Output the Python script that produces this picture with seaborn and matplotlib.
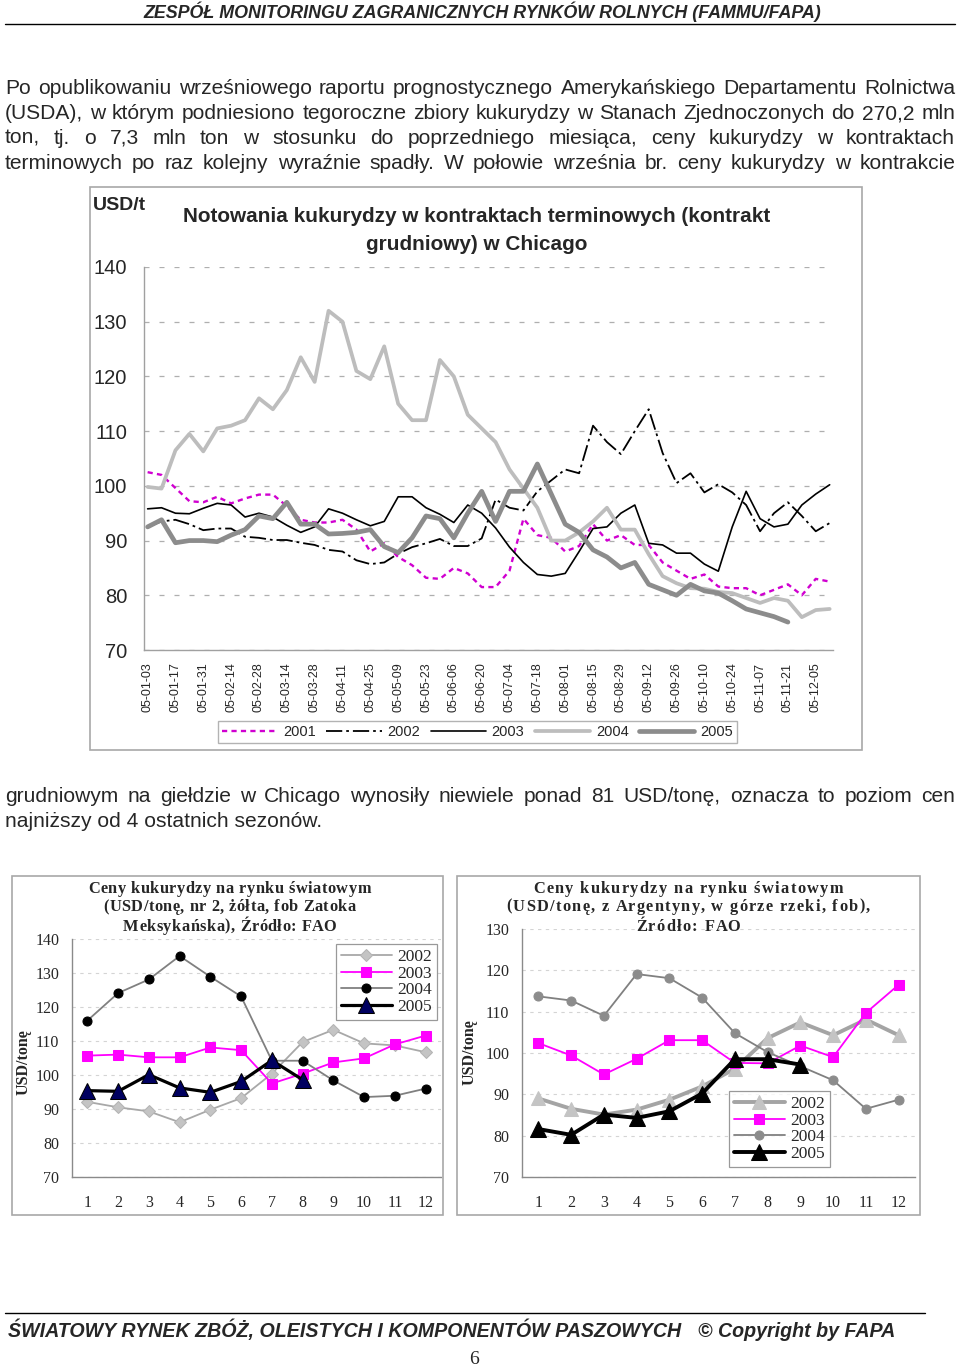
import numpy as np
import pandas as pd
import matplotlib
matplotlib.use("Agg")
import matplotlib.pyplot as plt
import seaborn as sns
from matplotlib.patches import Rectangle
from matplotlib.lines import Line2D

# ------------------------------------------------------------------ data
# Chicago December corn futures (USD/t), read weekly (every 5 trading days)
tick_dates = ["05-01-03", "05-01-17", "05-01-31", "05-02-14", "05-02-28", "05-03-14",
              "05-03-28", "05-04-11", "05-04-25", "05-05-09", "05-05-23", "05-06-06",
              "05-06-20", "05-07-04", "05-07-18", "05-08-01", "05-08-15", "05-08-29",
              "05-09-12", "05-09-26", "05-10-10", "05-10-24", "05-11-07", "05-11-21",
              "05-12-05"]
trading_day = np.arange(0, 246, 5)

fut_2001 = [102.5, 102, 99.6, 97.2, 97, 98, 96.8, 97.7, 98.4, 98.4,
            96.3, 93.8, 93.3, 93.3, 93.8, 92, 88, 89.5, 87, 85.5,
            83.2, 83, 85, 84, 81.5, 81.5, 84.5, 94, 91, 90.5,
            88, 89, 93, 90, 91, 89.2, 89.2, 86, 84.5, 83,
            83.8, 81.6, 81.3, 81.3, 80, 81, 82, 80, 83, 82.5]
fut_2002 = [92.5, 93.5, 93.8, 93, 91.9, 92.2, 92.2, 90.7, 90.5, 90.1,
            90.1, 89.6, 89.2, 88.3, 88, 86.4, 85.7, 86, 87.6, 88.8,
            89.5, 90.3, 89, 89, 90.4, 97.5, 96, 95.5, 99, 101,
            103, 102.3, 111, 108, 105.8, 110, 114, 106, 100.5, 102.3,
            98.8, 100.3, 98.8, 96.5, 91.7, 95, 97, 94.5, 91.7, 93.2]
fut_2003 = [95.8, 96, 95, 94.9, 95.9, 96.8, 96.5, 94.3, 95, 94.3,
            92.8, 91.5, 92.5, 95.8, 95, 93.8, 92.7, 93.5, 98, 98,
            96, 94.8, 93.3, 96.5, 95, 92.3, 88.8, 86, 83.8, 83.5,
            84, 88, 92.2, 92.5, 95, 96.5, 89.5, 89.2, 87.7, 87.7,
            85.7, 84.4, 92.5, 99, 94, 92.5, 93, 96.5, 98.5, 100.2]
fut_2004 = [99.8, 99.5, 106.5, 109.5, 106.3, 110.5, 111, 112, 116, 114,
            117.5, 123.5, 119, 132, 130, 121, 119.5, 125.5, 115, 112,
            112, 123, 120, 113, 110.5, 108, 103, 99.5, 96, 90,
            90, 91.5, 93.5, 96, 92, 92, 87.5, 83.5, 82.2, 81.3,
            81.2, 80.6, 80.4, 79.5, 78.6, 79.5, 79, 76, 77.3, 77.5]
fut_2005 = [92.5, 93.8, 89.6, 90, 90, 89.8, 91, 92, 94.5, 94,
            97, 93, 93, 91.2, 91.3, 91.5, 92, 88.9, 87.8, 90.5,
            94.5, 94, 90.5, 95, 99, 93.5, 99, 99, 104, 98.5,
            93, 91.5, 88.3, 87, 85, 86, 82, 81, 80, 82,
            80.8, 80.4, 79, 77.5, 76.8, 76.1, 75.1, np.nan, np.nan, np.nan]
fut_years = [2001, 2002, 2003, 2004, 2005]

# World market prices (USD/t), monthly
months = list(range(1, 13))
gulf_2002 = [92.1, 90.5, 89.3, 86.1, 89.8, 93.2, 100.4, 109.7, 113.3, 109.3, 108.7, 106.7]
gulf_2003 = [105.7, 106, 105.2, 105.2, 108.1, 107.3, 97.5, 100.4, 103.7, 104.9, 109, 111.6]
gulf_2004 = [116, 124.1, 128.1, 135, 128.9, 123.1, 104.2, 104.2, 98.4, 93.5, 93.9, 96]
gulf_2005 = [95.4, 95.2, 100.1, 96.2, 94.9, 98.1, 104.3, 98.6, np.nan, np.nan, np.nan, np.nan]

arg_2002 = [89, 86.5, 85.1, 86.3, 88.7, 91.9, 96.2, 103.6, 107.4, 104.3, 108.1, 104.3]
arg_2003 = [102.4, 99.4, 94.8, 98.6, 103.1, 103.1, 97.6, 97.5, 101.8, 99, 109.7, 116.5]
arg_2004 = [113.7, 112.7, 109, 119.1, 118.1, 113.4, 104.8, 100.2, 96.8, 93.4, 86.5, 88.7]
arg_2005 = [81.6, 80.2, 85.1, 84.3, 85.9, 90.2, 98.5, 98.5, 97.2, np.nan, np.nan, np.nan]

# texts
header = "ZESPÓŁ MONITORINGU ZAGRANICZNYCH RYNKÓW ROLNYCH (FAMMU/FAPA)"
para1 = ["Po opublikowaniu wrześniowego raportu prognostycznego Amerykańskiego Departamentu Rolnictwa",
         "(USDA), w którym podniesiono tegoroczne zbiory kukurydzy w Stanach Zjednoczonych  do 270,2 mln",
         "ton, tj. o 7,3 mln ton w stosunku do poprzedniego miesiąca, ceny kukurydzy w kontraktach",
         "terminowych po raz kolejny wyraźnie spadły. W połowie września br. ceny kukurydzy w kontrakcie"]
para2 = ["grudniowym na giełdzie w Chicago wynosiły niewiele ponad 81 USD/tonę, oznacza to poziom cen",
         "najniższy od 4 ostatnich sezonów."]
top_title = ["Notowania kukurydzy w kontraktach terminowych (kontrakt", "grudniowy) w Chicago"]
gulf_title = ["Ceny kukurydzy na rynku światowym", "(USD/tonę, nr 2, żółta, fob Zatoka",
              "Meksykańska), Źródło: FAO"]
arg_title = ["Ceny kukurydzy na rynku światowym", "(USD/tonę, z Argentyny, w górze rzeki, fob),",
             "Źródło: FAO"]
footer_left = "ŚWIATOWY RYNEK ZBÓŻ, OLEISTYCH I KOMPONENTÓW PASZOWYCH"
footer_right = "© Copyright by FAPA"

# ------------------------------------------------------------------ setup
sns.set_style("white")
SANS = ['Liberation Sans', 'DejaVu Sans']
SERIF = ['Liberation Serif', 'DejaVu Serif']
plt.rcParams['font.family'] = SANS

W, H = 960, 1370
fig = plt.figure(figsize=(W / 100, H / 100), dpi=100)
fig.patch.set_facecolor('white')
R = fig.canvas.get_renderer()


def fx(x):
    return x / W


def fy(y):
    return 1 - y / H


def rect(x0, y0, x1, y1):
    return [x0 / W, 1 - y1 / H, (x1 - x0) / W, (y1 - y0) / H]


def tw(s, fs, **kw):
    t = fig.text(0, 0, s, fontsize=fs, **kw)
    w = t.get_window_extent(renderer=R).width
    t.remove()
    return w


def fit_size(s, width, fs0=12, **kw):
    return fs0 * width / tw(s, fs0, **kw)


def justify(line, base_y, x0, x1, fs, **kw):
    words = line.split()
    widths = [tw(w, fs, **kw) for w in words]
    gap = (x1 - x0 - sum(widths)) / (len(words) - 1)
    x = x0
    for w, wd in zip(words, widths):
        fig.text(fx(x), fy(base_y), w, fontsize=fs, ha='left', va='baseline', **kw)
        x += wd + gap


def tracked(s, cx, base_y, fs, track, **kw):
    bar = tw("|", fs, **kw)
    offs = [0.0] + [tw(s[:i] + "|", fs, **kw) - bar for i in range(1, len(s))]
    total = tw(s, fs, **kw) + track * (len(s) - 1)
    x0 = cx - total / 2
    for i, ch in enumerate(s):
        if ch == " ":
            continue
        fig.text(fx(x0 + offs[i] + i * track), fy(base_y), ch, fontsize=fs,
                 ha='left', va='baseline', **kw)


def box(x0, y0, x1, y1, color='#A8A8A8', lw=1.2):
    fig.add_artist(Rectangle((fx(x0), fy(y1)), (x1 - x0) / W, (y1 - y0) / H,
                             transform=fig.transFigure, fill=False,
                             edgecolor=color, lw=lw))


def hline(x0, x1, y, color='black', lw=1.0):
    fig.add_artist(Line2D([fx(x0), fx(x1)], [fy(y), fy(y)], transform=fig.transFigure,
                          color=color, lw=lw))


# ------------------------------------------------------------------ page text
hkw = dict(family=SANS, fontweight='bold', fontstyle='italic')
hs = fit_size(header, 680, **hkw)
fig.text(fx(482), fy(18), header, fontsize=hs, ha='center', va='baseline', **hkw)
hline(5, 955, 24, lw=1.0)

bkw = dict(family=SANS)
body_fs = min(fit_size(l, 950, 14, **bkw) for l in para1 + para2[:1])
for i, l in enumerate(para1):
    justify(l, 94 + 25 * i, 5, 955, body_fs, **bkw)
justify(para2[0], 802, 5, 955, body_fs, **bkw)
fig.text(fx(5), fy(827), para2[1], fontsize=body_fs, ha='left', va='baseline', **bkw)

fkw = dict(family=SANS, fontweight='bold', fontstyle='italic')
fs1 = fit_size(footer_left, 670, **fkw)
fig.text(fx(8), fy(1337), footer_left, fontsize=fs1, ha='left', va='baseline', **fkw)
fig.text(fx(698), fy(1337), footer_right, fontsize=fs1, ha='left', va='baseline', **fkw)
hline(5, 925, 1313, lw=1.0)
fig.text(fx(474), fy(1360), "6", fontsize=14, ha='center', va='center', family=SERIF)

# ------------------------------------------------------------------ top chart
box(90, 187, 862, 750)
fig.text(fx(93), fy(205), "USD/t", fontsize=14, fontweight='bold', ha='left', va='center')
ts = fit_size(top_title[0], 588, 14, family=SANS, fontweight='bold')
fig.text(fx(477), fy(216), top_title[0], fontsize=ts, fontweight='bold', ha='center', va='center')
fig.text(fx(477), fy(245), top_title[1], fontsize=ts, fontweight='bold', ha='center', va='center')

ax = fig.add_axes(rect(144, 267, 833, 650))
fut_style = {
    2001: dict(color='#D000D0', lw=1.7, ls=(0, (2.2, 1.8))),
    2002: dict(color='black', lw=1.3, ls=(0, (9, 2.2, 1.5, 2.2))),
    2003: dict(color='black', lw=1.2, ls='-'),
    2004: dict(color='#BDBDBD', lw=2.7, ls='-'),
    2005: dict(color='#8C8C8C', lw=3.4, ls='-'),
}
fut_data = {2001: fut_2001, 2002: fut_2002, 2003: fut_2003, 2004: fut_2004, 2005: fut_2005}
for yr in fut_years:
    df = pd.DataFrame({"day": trading_day, "price": fut_data[yr]}).dropna()
    st = fut_style[yr]
    sns.lineplot(data=df, x="day", y="price", ax=ax, color=st['color'], linewidth=st['lw'],
                 linestyle=st['ls'], label=str(yr), legend=False, errorbar=None,
                 solid_joinstyle='round')
ax.set_xlim(-1.3, 246.2)
ax.set_ylim(70, 140)
ax.set_yticks(range(70, 141, 10))
ax.set_xticks(range(0, 241, 10))
ax.set_xticklabels(tick_dates, rotation=90, fontsize=9)
ax.tick_params(axis='y', labelsize=14.5, length=5, color='#A0A0A0', pad=7, direction='out')
ax.tick_params(axis='x', length=5, color='#A0A0A0', pad=4, direction='out')
ax.set_xlabel("")
ax.set_ylabel("")
ax.yaxis.grid(True, color='#AFAFAF', linestyle=(0, (4, 8)), lw=0.9)
ax.xaxis.grid(False)
ax.set_axisbelow(True)
for s in ['top', 'right']:
    ax.spines[s].set_visible(False)
for s in ['left', 'bottom']:
    ax.spines[s].set_color('#A0A0A0')
    ax.spines[s].set_linewidth(1.0)
h, l = ax.get_legend_handles_labels()
fig.legend(h, l, loc='center', bbox_to_anchor=(fx(477.5), fy(732)), ncol=5,
           frameon=True, fancybox=False, edgecolor='#A0A0A0', fontsize=10.5,
           handlelength=3.8, columnspacing=0.7, handletextpad=0.4, borderpad=0.25)


# ------------------------------------------------------------------ small charts
def small_chart(axrect, series, ylim, title, title_c, title_base, title_w, ylabel_xy,
                legend_xy, legend_fs):
    ax = fig.add_axes(rect(*axrect))
    for vals, st in series:
        df = pd.DataFrame({"month": months, "price": vals}).dropna()
        sns.lineplot(data=df, x="month", y="price", ax=ax, legend=False, errorbar=None, **st)
    ax.set_xlim(0.5, 12.5)
    ax.set_ylim(*ylim)
    ax.set_yticks(range(ylim[0], ylim[1] + 1, 10))
    ax.set_xticks(months)
    ax.set_xticks(np.arange(0.5, 13, 1), minor=True)
    ax.tick_params(axis='x', which='major', length=0, pad=13, labelsize=11.5)
    ax.tick_params(axis='x', which='minor', length=4, color='#808080', direction='out')
    ax.tick_params(axis='y', length=4, color='#808080', pad=5, labelsize=11.5)
    for lab in ax.get_xticklabels() + ax.get_yticklabels():
        lab.set_family(SERIF)
    ax.set_xlabel("")
    ax.set_ylabel("")
    ax.yaxis.grid(True, color='#D4D4D4', linestyle=(0, (3, 4)), lw=0.8)
    ax.xaxis.grid(False)
    ax.set_axisbelow(True)
    for s in ['top', 'right']:
        ax.spines[s].set_visible(False)
    for s in ['left', 'bottom']:
        ax.spines[s].set_color('#8A8A8A')
        ax.spines[s].set_linewidth(1.0)
    # title with letter spacing
    tkw = dict(family=SERIF, fontweight='bold')
    tfs = 11.8
    track = max(0.0, (title_w - tw(title[0], tfs, **tkw)) / (len(title[0]) - 1))
    for line, yb in zip(title, title_base):
        tracked(line, title_c, yb, tfs, track, **tkw)
    fig.text(fx(ylabel_xy[0]), fy(ylabel_xy[1]), "USD/tonę", rotation=90, fontsize=11.5,
             fontweight='bold', family=SERIF, ha='center', va='center')
    h, l = ax.get_legend_handles_labels()
    leg = ax.legend(h, l, loc='upper left', bbox_to_anchor=(fx(legend_xy[0]), fy(legend_xy[1])),
                    bbox_transform=fig.transFigure, frameon=True, fancybox=False,
                    edgecolor='#808080', handlelength=2.9, handletextpad=0.3,
                    labelspacing=0.02, borderpad=0.3, borderaxespad=0.0, numpoints=1,
                    prop=dict(family=SERIF, size=legend_fs))
    leg.get_frame().set_linewidth(0.9)
    return ax


box(12, 876, 443, 1215)
gulf_series = [
    (gulf_2002, dict(color='#A8A8A8', linewidth=1.3, marker='D', markersize=6,
                     markerfacecolor='#C4C4C4', markeredgecolor='#B4B4B4', label='2002')),
    (gulf_2003, dict(color='#FF00FF', linewidth=1.3, marker='s', markersize=6.5,
                     markerfacecolor='#FF00FF', markeredgecolor='#FF00FF', label='2003')),
    (gulf_2004, dict(color='#808080', linewidth=1.3, marker='o', markersize=6.5,
                     markerfacecolor='black', markeredgecolor='black', label='2004')),
    (gulf_2005, dict(color='black', linewidth=2.3, marker='^', markersize=11,
                     markerfacecolor='#000060', markeredgecolor='black', label='2005')),
]
small_chart((72, 939, 441, 1177), gulf_series, (70, 140), gulf_title, 229.5,
            (893.4, 911.4, 930.7), 283, (24, 1062), (336, 944), 12.5)

box(457, 876, 920, 1215)
arg_series = [
    (arg_2002, dict(color='#A4A4A4', linewidth=2.8, marker='^', markersize=10,
                    markerfacecolor='#C4C4C4', markeredgecolor='#C4C4C4', label='2002')),
    (arg_2003, dict(color='#FF00FF', linewidth=1.3, marker='s', markersize=7,
                    markerfacecolor='#FF00FF', markeredgecolor='#FF00FF', label='2003')),
    (arg_2004, dict(color='#808080', linewidth=1.3, marker='o', markersize=6.5,
                    markerfacecolor='#8C8C8C', markeredgecolor='#8C8C8C', label='2004')),
    (arg_2005, dict(color='black', linewidth=2.8, marker='^', markersize=11,
                    markerfacecolor='black', markeredgecolor='black', label='2005')),
]
small_chart((522, 929, 915, 1177), arg_series, (70, 130), arg_title, 688,
            (892.7, 910.7, 930.7), 310, (470, 1052), (729, 1091), 12.5)

fig.savefig("out.png", dpi=100, facecolor='white')
